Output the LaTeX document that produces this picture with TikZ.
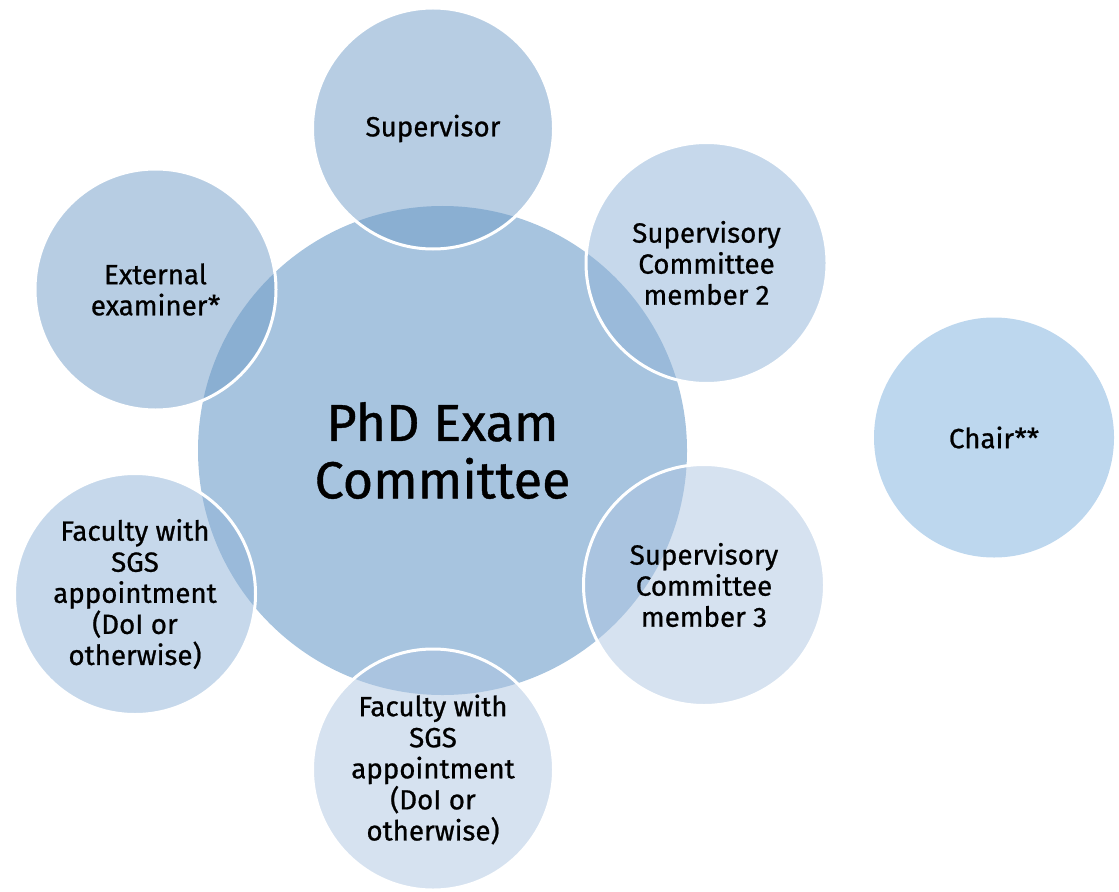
\documentclass[tikz,border=0pt]{standalone}
\usepackage{fontspec}
\setmainfont{Fira Sans}[FakeBold=0.8]
\definecolor{cmain}{RGB}{167,196,223}
\definecolor{cdark}{RGB}{111,155,199}
\definecolor{cmid}{RGB}{142,178,215}
\definecolor{clight}{RGB}{173,197,225}
\definecolor{cchair}{RGB}{189,215,238}
\begin{document}
\begin{tikzpicture}[x=0.75pt,y=-0.75pt,
  sat/.style={circle,minimum size=180.75pt,inner sep=0pt,draw=white,line width=2.25pt,
    fill opacity=0.5,text opacity=1,align=center,
    font=\fontsize{20.8}{23.3}\selectfont},
  hub/.style={circle,minimum size=366.75pt,inner sep=0pt,fill=cmain,align=center,
    font=\fontsize{39}{43}\selectfont}]
\useasboundingbox (0,0) rectangle (1119,891);
\node[hub] (hub) at (442.5,450.5) {PhD Exam\\Committee};
\node[sat,fill=cdark] (sup) at (433,128.5) {Supervisor};
\node[sat,fill=cmid] (m2) at (706.5,263) {Supervisory\\Committee\\member 2};
\node[sat,fill=clight] (m3) at (704,585) {Supervisory\\Committee\\member 3};
\node[sat,fill=clight] (fb) at (433,769.5) {Faculty with\\SGS\\appointment\\(DoI or\\otherwise)};
\node[sat,fill=cmid] (fl) at (135,594) {Faculty with\\SGS\\appointment\\(DoI or\\otherwise)};
\node[sat,fill=cdark] (ext) at (155.5,289.5) {External\\examiner*};
\node[sat,fill=cchair,fill opacity=1,draw=none,minimum size=180pt] (chair) at (994,437.5) {Chair**};
\end{tikzpicture}
\end{document}
